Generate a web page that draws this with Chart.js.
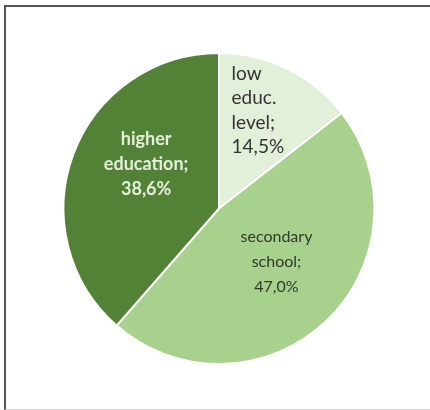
<!DOCTYPE html>
<html>
<head>
<meta charset="utf-8">
<script src="https://cdn.jsdelivr.net/npm/chart.js@4.4.1/dist/chart.umd.min.js"></script>
<style>
  html, body { margin: 0; padding: 0; background: #fff; }
  #wrap { position: relative; width: 430px; height: 410px; overflow: hidden; }
  #frame {
    position: absolute; left: 4px; top: 5px; width: 440px; height: 402px;
    border-left: 2px solid #555; border-top: 2px solid #555; border-bottom: 1px solid #ccc;
  }
  #pie-chart { position: absolute; left: 0; top: 0; }
</style>
</head>
<body>
<div id="wrap">
  <div id="frame"></div>
  <canvas id="pie-chart" width="430" height="410"></canvas>
</div>
<script>
// Share of people by education level (percent)
const categories = ['low educ. level', 'secondary school', 'higher education'];
const shares = [14.5, 47.0, 38.6];
const valueLabels = ['14,5%', '47,0%', '38,6%'];

const sliceColors = ['#e2efd9', '#a9d18e', '#538135'];

// How each slice label is written and where it sits inside its slice
const labelStyles = [
    { lines: ['low', 'educ.', 'level;'], font: '19px Lato', color: '#333333', align: 'left', lineHeight: 24.5, cap: 13, dist: 0.68, turn: -4.5 },
    { lines: ['secondary', 'school;'], font: '16px Lato', color: '#2f3a29', align: 'center', lineHeight: 25, cap: 12, dist: 0.50, turn: -4.3 },
    { lines: ['higher', 'education;'], font: 'bold 18px Lato', color: '#e2efd9', align: 'center', lineHeight: 25, cap: 13, dist: 0.55, turn: 11 }
];

// Draws multi-line labels inside each arc
const sliceLabels = {
    id: 'sliceLabels',
    afterDatasetsDraw(chart) {
        const ctx = chart.ctx;
        const meta = chart.getDatasetMeta(0);
        meta.data.forEach(function (arc, i) {
            const st = labelStyles[i];
            const p = arc.getProps(['x', 'y', 'startAngle', 'endAngle', 'outerRadius'], true);
            const mid = (p.startAngle + p.endAngle) / 2 + st.turn * Math.PI / 180;
            const cx = p.x + Math.cos(mid) * p.outerRadius * st.dist;
            const cy = p.y + Math.sin(mid) * p.outerRadius * st.dist;
            const lines = st.lines.concat([valueLabels[i]]);

            ctx.save();
            ctx.font = st.font;
            ctx.fillStyle = st.color;
            ctx.textBaseline = 'alphabetic';
            let x = cx;
            if (st.align === 'left') {
                const widest = Math.max.apply(null, lines.map(function (l) { return ctx.measureText(l).width; }));
                x = cx - widest / 2;
            }
            ctx.textAlign = st.align;
            let y = cy - (lines.length - 1) * st.lineHeight / 2 + st.cap / 2;
            lines.forEach(function (line) {
                ctx.fillText(line, x, y);
                y += st.lineHeight;
            });
            ctx.restore();
        });
    }
};

function createPieChart() {
    const ctx = document.getElementById('pie-chart').getContext('2d');
    new Chart(ctx, {
        type: 'pie',
        data: {
            labels: categories,
            datasets: [{
                data: shares,
                backgroundColor: sliceColors,
                borderColor: '#ffffff',
                borderWidth: 2
            }]
        },
        options: {
            responsive: false,
            animation: false,
            layout: { padding: { left: 62, right: 54, top: 52, bottom: 45 } },
            plugins: {
                legend: { display: false },
                tooltip: { enabled: false }
            }
        },
        plugins: [sliceLabels]
    });
}

createPieChart();
</script>
</body>
</html>
